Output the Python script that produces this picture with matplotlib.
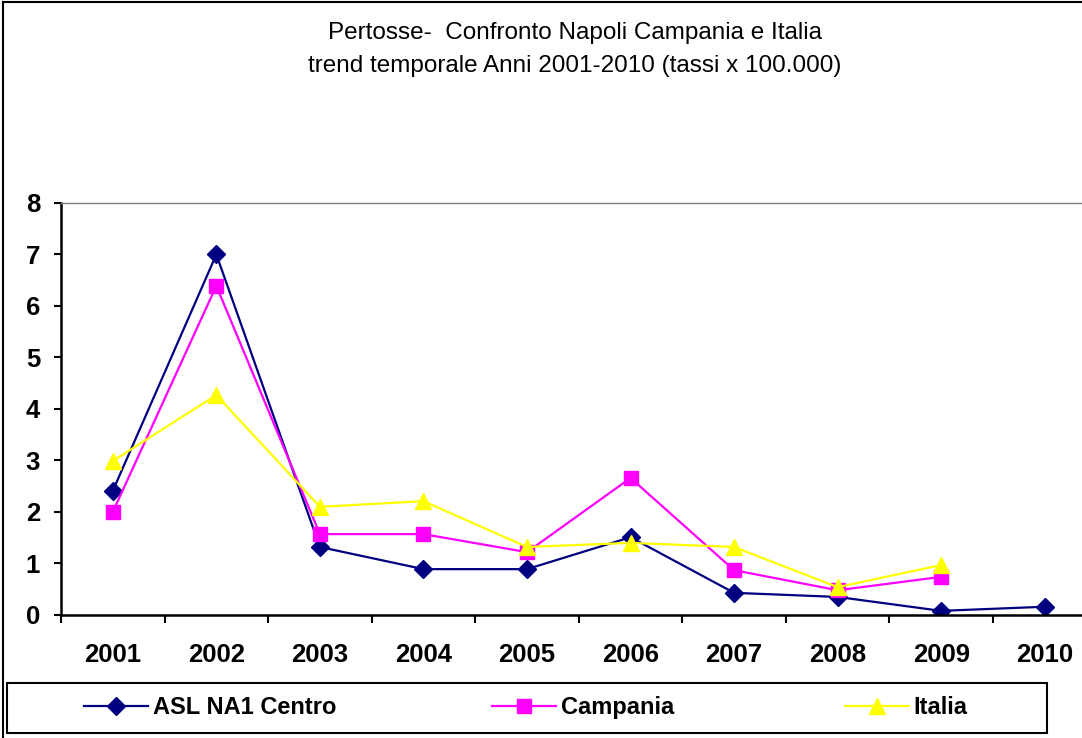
import numpy as np
import matplotlib.pyplot as plt
from matplotlib.lines import Line2D
from matplotlib.patches import Rectangle

plt.rcParams['font.family'] = ['Liberation Sans', 'DejaVu Sans']

anni = ['2001', '2002', '2003', '2004', '2005', '2006', '2007', '2008', '2009', '2010']
asl_na1 = [2.41, 7.0, 1.32, 0.89, 0.89, 1.51, 0.43, 0.35, 0.08, 0.16]
campania = [2.0, 6.39, 1.57, 1.57, 1.22, 2.66, 0.87, 0.48, 0.74, np.nan]
italia = [2.99, 4.27, 2.1, 2.21, 1.32, 1.40, 1.32, 0.54, 0.97, np.nan]

fig = plt.figure(figsize=(10.82, 7.38), dpi=100)
ax = fig.add_axes([0.0564, 0.1667, 0.957, 0.5583])

x = np.arange(len(anni))
l1, = ax.plot(x, asl_na1, color='#000080', lw=1.6, marker='D', ms=9.5, label='ASL NA1 Centro')
l2, = ax.plot(x, campania, color='#ff00ff', lw=1.6, marker='s', ms=9.5, label='Campania')
l3, = ax.plot(x, italia, color='#ffff00', lw=1.6, marker='^', ms=11, label='Italia')

ax.set_xlim(-0.5, 9.5)
ax.set_ylim(0, 8)
ax.set_yticks(range(0, 9))
ax.set_xticks(x)
ax.set_xticklabels(anni)
ax.set_xticks(np.arange(-0.5, 10, 1), minor=True)
ax.tick_params(axis='x', which='major', length=0, pad=20, labelsize=18.5)
ax.tick_params(axis='x', which='minor', length=6, width=1.5, direction='out')
ax.tick_params(axis='y', length=5, width=1.5, direction='out', labelsize=18.5, pad=10)
for lab in ax.get_xticklabels() + ax.get_yticklabels():
    lab.set_fontweight('bold')

ax.spines['left'].set_linewidth(1.8)
ax.spines['bottom'].set_linewidth(1.8)
ax.spines['top'].set_color('#808080')
ax.spines['top'].set_linewidth(1)
ax.spines['right'].set_visible(False)

# titolo
fig.text(0.531, 0.955, 'Pertosse-  Confronto Napoli Campania e Italia', ha='center', va='center', fontsize=17.5)
fig.text(0.531, 0.910, 'trend temporale Anni 2001-2010 (tassi x 100.000)', ha='center', va='center', fontsize=17.5)

# bordo esterno del grafico
fig.add_artist(Line2D([0.003, 0.003], [0, 0.997], color='black', lw=1.5))
fig.add_artist(Line2D([0.003, 1], [0.997, 0.997], color='black', lw=1.5))

# legenda: riquadro + tre voci
fig.add_artist(Rectangle((0.0065, 0.0068), 0.961, 0.068, transform=fig.transFigure,
                         fill=False, edgecolor='black', lw=1.5))
for h, xpos in zip([l1, l2, l3], [0.078, 0.455, 0.781]):
    leg = fig.legend(handles=[h], loc='center left', bbox_to_anchor=(xpos, 0.0407),
                     frameon=False, handlelength=2.7, handletextpad=0.2, borderpad=0, borderaxespad=0,
                     prop={'weight': 'bold', 'size': 17})

fig.savefig('out.png', dpi=100)
